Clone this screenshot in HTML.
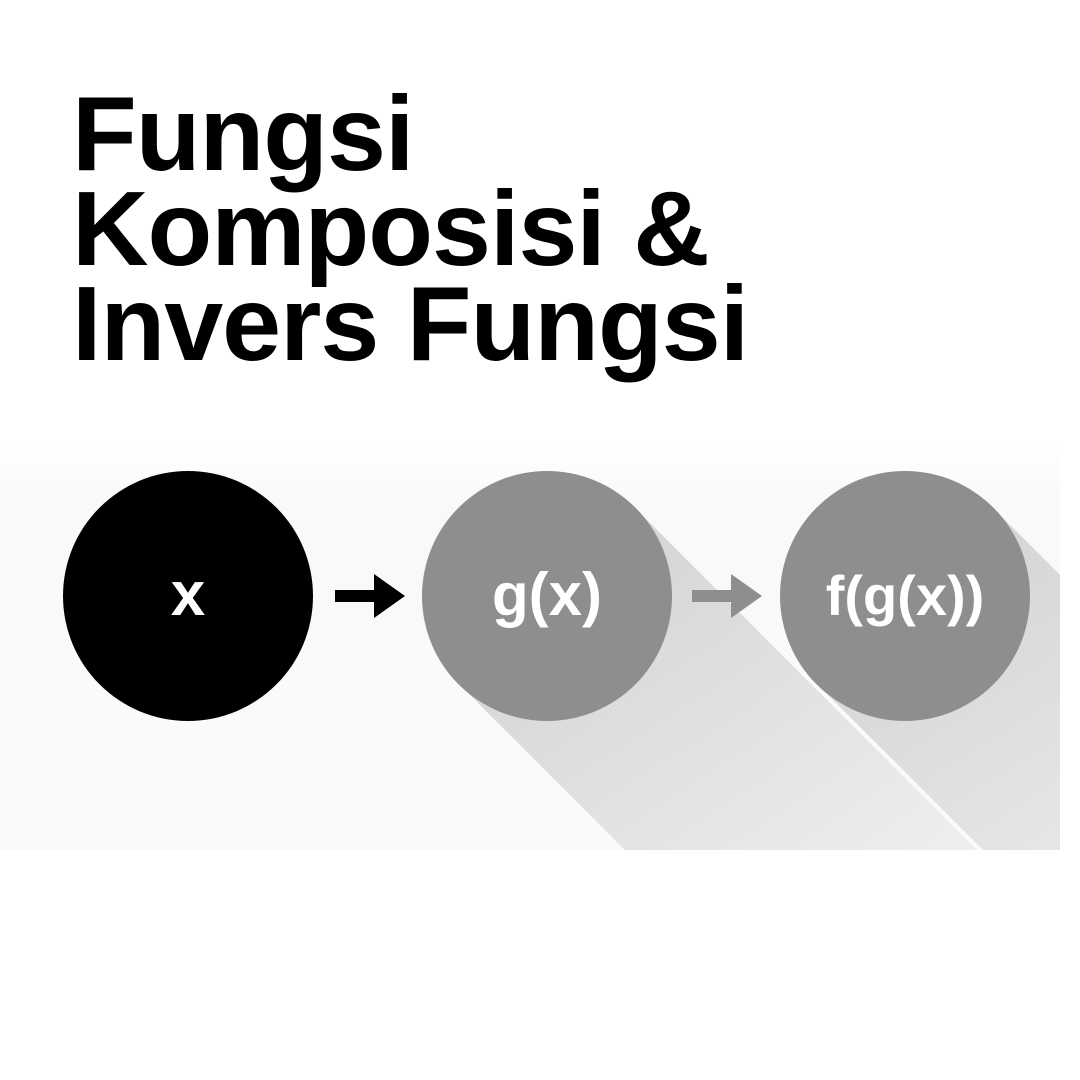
<!DOCTYPE html>
<html><head><meta charset="utf-8"><style>
html,body{margin:0;padding:0;background:#fff;}
#wrap{position:relative;width:1080px;height:1080px;overflow:hidden;background:#fff;}
.t{position:absolute;left:72px;font-family:"Liberation Sans",sans-serif;font-weight:900;font-size:106px;letter-spacing:-1px;color:#000;line-height:1;margin:0;}
svg{position:absolute;left:0;top:0;}
</style></head><body>
<div id="wrap">
<svg width="1080" height="1080">
<defs>
<linearGradient id="bg" x1="0" y1="0" x2="0" y2="1">
<stop offset="0" stop-color="#fff"/><stop offset="0.15" stop-color="#f9f9f7"/><stop offset="1" stop-color="#fafaf9"/>
</linearGradient>
<linearGradient id="sh" x1="0" y1="0" x2="1" y2="1">
<stop offset="0" stop-color="#c4c4c4"/><stop offset="1" stop-color="#ececec"/>
</linearGradient>
<clipPath id="cp"><rect x="0" y="440" width="1060" height="410"/></clipPath>
</defs>
<rect x="0" y="440" width="1060" height="410" fill="url(#bg)"/>
<g clip-path="url(#cp)">
<polygon points="635,508 459,684 625,850 977,850" fill="url(#sh)" opacity="0.8"/>
<polygon points="993,508 817,684 983,850 1335,850" fill="url(#sh)" opacity="0.8"/>
</g>
<circle cx="188" cy="596" r="125" fill="#000"/>
<circle cx="547" cy="596" r="125" fill="#8e8e8e"/>
<circle cx="905" cy="596" r="125" fill="#8e8e8e"/>
<g>
<rect x="335" y="590" width="45" height="12" fill="#000"/>
<polygon points="374,574 405,596 374,618" fill="#000"/>
</g>
<g>
<rect x="692" y="590" width="45" height="12" fill="#8e8e8e"/>
<polygon points="731,574 762,596 731,618" fill="#8e8e8e"/>
</g>
<text x="188" y="615" text-anchor="middle" font-family="Liberation Sans, sans-serif" font-weight="700" font-size="62" fill="#fff">x</text>
<text x="547" y="615" text-anchor="middle" font-family="Liberation Sans, sans-serif" font-weight="700" font-size="60" fill="#fff">g(x)</text>
<text x="905" y="615" text-anchor="middle" font-family="Liberation Sans, sans-serif" font-weight="700" font-size="56" fill="#fff">f(g(x))</text>
</svg>
<div class="t" style="top:81px">Fungsi</div>
<div class="t" style="top:176px">Komposisi &amp;</div>
<div class="t" style="top:271px">Invers Fungsi</div>
</div>
</body></html>
